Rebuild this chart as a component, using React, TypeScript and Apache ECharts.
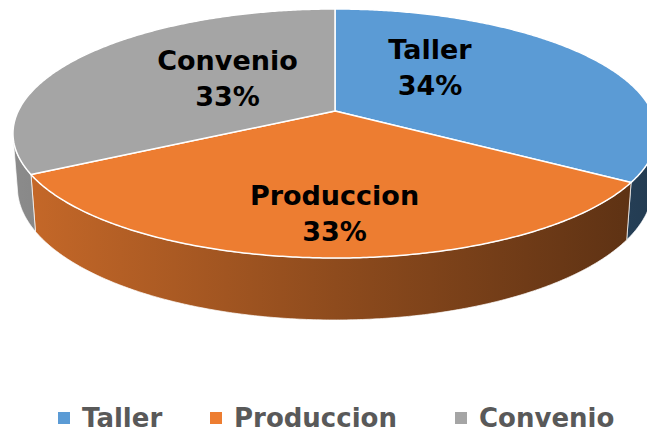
import React, { useEffect, useRef } from "react";
import * as echarts from "echarts";

// ---- data ----
const CATEGORIES: string[] = ["Taller", "Produccion", "Convenio"];
const VALUES: number[] = [34, 33, 33];
const COLORS: string[] = ["#5B9BD5", "#ED7D31", "#A5A5A5"];

// ---- 3D view (layout) ----
const CX = 335;
const CY = 111;
const FX = 1753;
const SIN = 0.3803;
const COS = 0.9249;
const DIST = 5.119;
const F = FX * COS;
const THICK = 0.183;
const LABEL_XY: number[][] = [
  [430, 67],
  [334.5, 213],
  [227.5, 78],
];
const LEGEND_LEFT: number[] = [58, 210, 455];

function project(thetaDeg: number, r: number, h: number): number[] {
  const t = (thetaDeg * Math.PI) / 180;
  const u = r * Math.sin(t);
  const v = -r * Math.cos(t);
  const ys = v * SIN - h * COS;
  const zc = DIST - v * COS - h * SIN;
  return [CX + (F * u) / zc, CY + (F * ys) / zc];
}

function shade(hex: string, f: number): string {
  const n = parseInt(hex.slice(1), 16);
  const r = Math.round(((n >> 16) & 255) * f);
  const g = Math.round(((n >> 8) & 255) * f);
  const b = Math.round((n & 255) * f);
  return `rgb(${r},${g},${b})`;
}

const THETA_A = (Math.acos(-1 / (DIST * COS)) * 180) / Math.PI;
const THETA_B = 360 - THETA_A;

export default function App() {
  const ref = useRef<HTMLDivElement>(null);
  useEffect(() => {
    if (!ref.current) return;
    const chart = echarts.init(ref.current, undefined, { renderer: "svg" });
    const total = VALUES.reduce((a, b) => a + b, 0);
    const font = "'DejaVu Sans', sans-serif";

    const series = CATEGORIES.map((name, i) => ({
      type: "custom",
      name,
      coordinateSystem: "none",
      silent: true,
      itemStyle: { color: COLORS[i] },
      data: [VALUES[i]],
      renderItem: (params: any, api: any) => {
        const val = api.value(0);
        let before = 0;
        for (let k = 0; k < i; k++) before += VALUES[k];
        const start = (before / total) * 360;
        const end = start + (val / total) * 360;
        const children: any[] = [];
        // side
        const a = Math.max(start, THETA_A);
        const b = Math.min(end, THETA_B);
        if (a < b) {
          const n = Math.max(2, Math.ceil((b - a) / 0.5));
          const pts: number[][] = [];
          for (let k = 0; k <= n; k++) pts.push(project(a + ((b - a) * k) / n, 1, 0));
          for (let k = n; k >= 0; k--) pts.push(project(a + ((b - a) * k) / n, 1, -THICK));
          children.push({
            type: "polygon",
            z2: 1,
            shape: { points: pts },
            style: {
              fill: new echarts.graphic.LinearGradient(
                13, 0, 657, 0,
                [
                  { offset: 0, color: shade(COLORS[i], 0.84) },
                  { offset: 0.5, color: shade(COLORS[i], 0.6) },
                  { offset: 1, color: shade(COLORS[i], 0.38) },
                ],
                true
              ),
              stroke: "rgba(255,255,255,0.7)",
              lineWidth: 1,
            },
          });
        }
        // top face
        const top: number[][] = [project(0, 0, 0)];
        const m = Math.max(2, Math.ceil((end - start) / 0.5));
        for (let k = 0; k <= m; k++) top.push(project(start + ((end - start) * k) / m, 1, 0));
        children.push({
          type: "polygon",
          z2: 5,
          shape: { points: top },
          style: { fill: COLORS[i], stroke: "#ffffff", lineWidth: 1.5, lineJoin: "round" },
        });
        // label
        const pct = Math.round((val / total) * 100);
        children.push({
          type: "text",
          z2: 10,
          x: LABEL_XY[i][0],
          y: LABEL_XY[i][1],
          style: {
            text: `${name}\n${pct}%`,
            fontFamily: font,
            fontWeight: "bold",
            fontSize: 27,
            lineHeight: 36,
            fill: "#000000",
            align: "center",
            verticalAlign: "middle",
          },
        });
        return { type: "group", children };
      },
    }));

    const legend = CATEGORIES.map((name, i) => ({
      data: [name],
      left: LEGEND_LEFT[i],
      top: 403,
      padding: 0,
      icon: "rect",
      itemWidth: 12,
      itemHeight: 12,
      selectedMode: false,
      textStyle: {
        fontFamily: font,
        fontWeight: "bold",
        fontSize: 26,
        lineHeight: 30,
        color: "#595959",
        padding: [0, 0, 0, 7],
      },
    }));

    chart.setOption({
      animation: false,
      backgroundColor: "#ffffff",
      legend,
      series,
    } as any);
    return () => chart.dispose();
  }, []);
  return (
    <div
      ref={ref}
      style={{ position: "absolute", left: 0, top: 0, width: 647, height: 434 }}
    />
  );
}
